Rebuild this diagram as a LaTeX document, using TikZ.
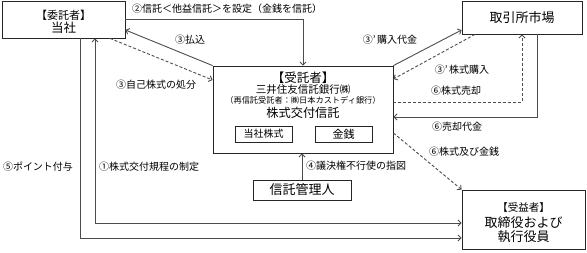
\documentclass[tikz,border=0pt]{standalone}
\usepackage{fontspec}
\setmainfont{Noto Sans CJK JP}
\usetikzlibrary{arrows.meta}
\newcommand{\myfs}[1]{\fontsize{#1}{#1}\selectfont}
\begin{document}
\begin{tikzpicture}[x=1pt,y=-1pt,
  box/.style={draw=black!85, line width=0.8pt, inner sep=0pt, align=center},
  txt/.style={inner sep=0pt},
  lab/.style={inner sep=0pt, font=\myfs{10}},
  con/.style={draw=black!70, line width=0.9pt},
  dsh/.style={con, dash pattern=on 3pt off 2pt},
  >={Straight Barb[length=3pt,width=6pt]}]
\useasboundingbox (0,0) rectangle (587,252);
% boxes
\node[box, minimum width=123pt, minimum height=37pt] (itaku) at (63.5,19.5) {};
\node[txt, font=\myfs{11}] (itakuT1) at (63.5,15) {【委託者】};
\node[txt, font=\myfs{12.5}] (itakuT2) at (63.5,28) {当社};
\node[box, minimum width=120pt, minimum height=33pt, font=\myfs{13}] (market) at (522,17.5) {取引所市場};
\node[box, minimum width=180pt, minimum height=87pt] (jutaku) at (303,109.5) {};
\node[txt, font=\myfs{12.5}] (jt1) at (303,78) {【受託者】};
\node[txt, font=\myfs{10.5}] (jt2) at (303,89.5) {三井住友信託銀行㈱};
\node[txt, font=\myfs{8.2}] (jt3) at (303,100.5) {（再信託受託者：㈱日本カストディ銀行）};
\node[txt, font=\myfs{12.2}] (jt4) at (303,113) {株式交付信託};
\node[box, minimum width=57pt, minimum height=16pt, font=\myfs{10}] (inA) at (263.5,134) {当社株式};
\node[box, minimum width=57pt, minimum height=16pt, font=\myfs{11}] (inB) at (343.5,134) {金銭};
\node[box, minimum width=98pt, minimum height=20pt, font=\myfs{13}] (kanri) at (302,190) {信託管理人};
\node[box, minimum width=123pt, minimum height=59pt] (jueki) at (523.5,219.5) {};
\node[txt, font=\myfs{10.5}] (jk1) at (523.5,208) {【受益者】};
\node[txt, font=\myfs{13}] (jk2) at (523.5,222.5) {取締役および};
\node[txt, font=\myfs{13}] (jk3) at (523.5,237) {執行役員};
% connectors
\draw[con,->] (itaku.east) -| (jutaku.north);
\node[lab, anchor=west] (l2) at (132,9) {②信託＜他益信託＞を設定（金銭を信託）};
\draw[con,->] (jutaku.north west) -- (itaku.east |- 0,30);
\node[lab] (l3a) at (190,40) {③払込};
\draw[dsh,->] (itaku.south -| 110,0) -- (jutaku.west |- 0,80);
\node[lab] (l3b) at (156,85) {③自己株式の処分};
\draw[con,->] (jutaku.north east) -- (market.west |- 0,30);
\node[lab] (l3c) at (390,40) {③’\,購入代金};
\draw[dsh,->] (market.south -| 475,0) -- (jutaku.east |- 0,79);
\node[lab] (l3d) at (462,70) {③’\,株式購入};
\draw[dsh,->] (jutaku.east |- 0,102) -| (market.south -| 522,0);
\node[lab] (l6a) at (456,91) {⑥株式売却};
\draw[con,->] (market.south -| 537,0) |- (jutaku.east |- 0,117);
\node[lab] (l6b) at (457,127) {⑥売却代金};
\draw[dsh,->] (jutaku.east |- 0,133) -- (jueki.north west);
\node[lab] (l6c) at (464,152) {⑥株式及び金銭};
\draw[con,->] (kanri.north -| 302,0) -- (jutaku.south -| 302,0);
\node[lab, anchor=west] (l4) at (306,166) {④議決権不行使の指図};
\draw[con,<->] (itaku.south -| 95,0) |- (jueki.west |- 0,223);
\node[lab, anchor=west] (l1) at (99,167) {①株式交付規程の制定};
\draw[con,->] (itaku.south -| 80,0) |- (jueki.west |- 0,238);
\node[lab] (l5) at (38,167) {⑤ポイント付与};
\end{tikzpicture}
\end{document}
